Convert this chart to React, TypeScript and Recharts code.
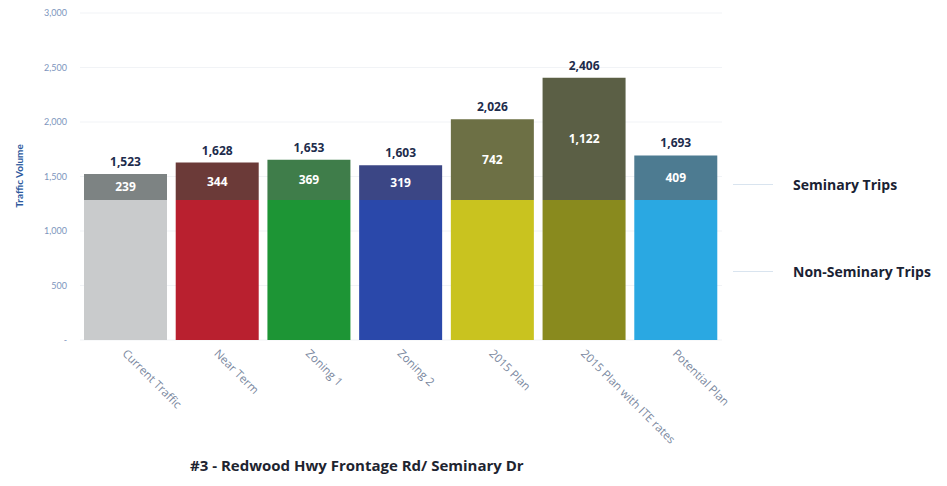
import { BarChart, Bar, XAxis, YAxis, CartesianGrid, Cell, LabelList } from "recharts"

const scenarios = [
  "Current Traffic",
  "Near Term",
  "Zoning 1",
  "Zoning 2",
  "2015 Plan",
  "2015 Plan with ITE rates",
  "Potential Plan",
]
const nonSeminaryTrips = [1284, 1284, 1284, 1284, 1284, 1284, 1284]
const seminaryTrips = [239, 344, 369, 319, 742, 1122, 409]
const totals = [1523, 1628, 1653, 1603, 2026, 2406, 1693]
const yTicks = [0, 500, 1000, 1500, 2000, 2500, 3000]

const baseColors = ["#c9cbcc", "#b9202f", "#1d9535", "#2a48aa", "#c9c31f", "#898a1e", "#2aa8e2"]
const topColors = ["#7d8383", "#6b3a38", "#3f7d4a", "#3b4685", "#6d7045", "#5b5f45", "#4d7b91"]

const data = scenarios.map((name, i) => ({
  name,
  nonSeminary: nonSeminaryTrips[i],
  seminary: seminaryTrips[i],
  total: totals[i],
}))

const fmt = (v: number) => (v === 0 ? "-" : v.toLocaleString("en-US"))

function AngledTick({ x, y, payload }: any) {
  return (
    <text
      x={x - 2}
      y={y}
      transform={`rotate(45, ${x - 2}, ${y})`}
      textAnchor="start"
      dominantBaseline="middle"
      fontSize={11.5}
      fill="#7a88a0"
      fontFamily="'Open Sans', sans-serif"
    >
      {payload.value}
    </text>
  )
}

export default function App() {
  return (
    <div
      style={{
        position: "absolute",
        left: 0,
        top: 0,
        width: 947,
        height: 486,
        background: "#fff",
        fontFamily: "'Open Sans', sans-serif",
      }}
    >
      <BarChart
        width={947}
        height={486}
        data={data}
        margin={{ top: 13, right: 225, left: 0, bottom: 46 }}
        barSize={83}
      >
        <CartesianGrid vertical={false} stroke="#f1f3f6" />
        <XAxis
          dataKey="name"
          height={100}
          interval={0}
          tickLine={false}
          axisLine={false}
          tick={<AngledTick />}
          tickMargin={6}
        />
        <YAxis
          width={80}
          domain={[0, 3000]}
          ticks={yTicks}
          tickFormatter={fmt}
          tickLine={false}
          axisLine={false}
          tickMargin={7}
          tick={{ fontSize: 9, fill: "#7d95bd", fontFamily: "Lato, sans-serif" }}
          label={{
            content: () => (
              <text
                x={20}
                y={176}
                transform="rotate(-90, 20, 176)"
                textAnchor="middle"
                dominantBaseline="middle"
                fontSize={10}
                fontWeight={700}
                fill="#2d5a9e"
                fontFamily="Lato, sans-serif"
              >
                Traffic Volume
              </text>
            ),
          }}
        />
        <Bar dataKey="nonSeminary" stackId="a" isAnimationActive={false}>
          {data.map((d, i) => (
            <Cell key={d.name} fill={baseColors[i]} />
          ))}
        </Bar>
        <Bar dataKey="seminary" stackId="a" isAnimationActive={false}>
          {data.map((d, i) => (
            <Cell key={d.name} fill={topColors[i]} />
          ))}
          <LabelList
            dataKey="seminary"
            position="center"
            formatter={(v: any) => fmt(Number(v))}
            fill="#ffffff"
            fontSize={12}
            fontWeight={700}
            fontFamily="'Open Sans', sans-serif"
          />
          <LabelList
            dataKey="total"
            position="top"
            offset={8}
            formatter={(v: any) => fmt(Number(v))}
            fill="#1d2c4c"
            fontSize={12}
            fontWeight={700}
            fontFamily="'Open Sans', sans-serif"
          />
        </Bar>
      </BarChart>

      {/* Legend */}
      {[
        { label: "Seminary Trips", y: 184 },
        { label: "Non-Seminary Trips", y: 271 },
      ].map(item => (
        <div key={item.label} style={{ position: "absolute", left: 733, top: item.y - 10, height: 20, display: "flex", alignItems: "center" }}>
          <div style={{ width: 40, height: 1, background: "#d9e4ef" }} />
          <span style={{ marginLeft: 20, fontSize: 14, fontWeight: 700, color: "#1a2233" }}>{item.label}</span>
        </div>
      ))}

      {/* Title */}
      <div
        style={{
          position: "absolute",
          left: 190,
          top: 455,
          fontSize: 15,
          fontWeight: 700,
          color: "#1e2430",
          whiteSpace: "nowrap",
        }}
      >
        #3 - Redwood Hwy Frontage Rd/ Seminary Dr
      </div>
    </div>
  )
}
